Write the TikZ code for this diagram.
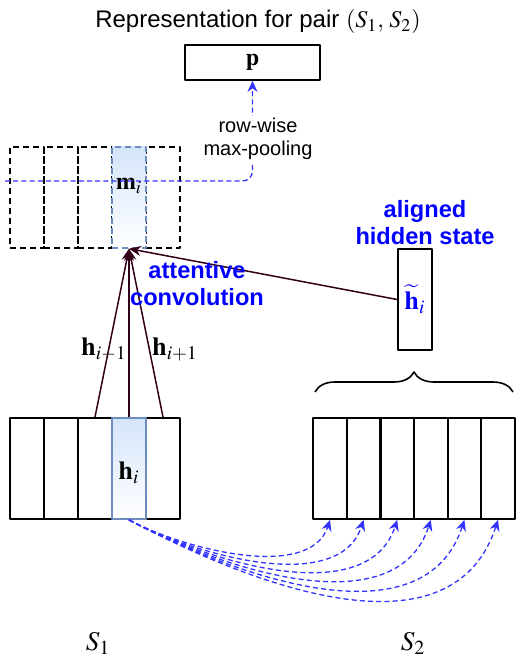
\documentclass[tikz,border=0pt]{standalone}
\usepackage{mathptmx}
\usepackage{fontspec}
\setsansfont{Liberation Sans}
\usetikzlibrary{positioning,arrows.meta,decorations.pathreplacing}
\definecolor{acBlue}{RGB}{0,0,255}
\definecolor{acDash}{RGB}{51,51,255}
\definecolor{acDark}{RGB}{51,0,26}
\definecolor{acFill}{RGB}{212,228,250}
\definecolor{acEdge}{RGB}{108,142,191}
\tikzset{
    base/.style={font=\sffamily, align=center},
    cell/.style={rectangle, draw=black, line width=0.9pt, minimum width=17pt,
                 minimum height=50.5pt, inner sep=0pt},
    ghost/.style={cell, line width=0.7pt, dash pattern=on 3pt off 2pt},
    focus/.style={top color=acFill, bottom color=white, draw=acEdge},
    conv/.style={-{Stealth[length=6pt,width=5pt]}, line width=0.75pt, color=acDark},
    matchline/.style={-{Stealth[length=5.5pt,width=5pt]}, line width=0.65pt, color=acDash,
                  dash pattern=on 2.5pt off 1.6pt},
    tag/.style={base, font=\fontsize{11.8}{13.5}\selectfont\sffamily\bfseries, text=acBlue},
    note/.style={base, font=\fontsize{10}{11.5}\selectfont\sffamily, fill=white, inner sep=1pt},
    mathlbl/.style={font=\fontsize{13}{15}\selectfont}
}

\begin{document}
\begin{tikzpicture}[x=0.5pt, y=-0.5pt, line join=round]
    \useasboundingbox (0,0) rectangle (516,662);

    % Title and pooled vector
    \node[base, font=\fontsize{12}{14}\selectfont\sffamily] (title) at (258,22)
        {Representation for pair $(S_1,\,S_2)$};
    \node[cell, minimum width=67.5pt, minimum height=17.5pt] (p) at (252.5,62.5)
        {\fontsize{12}{14}\selectfont$\mathbf{p}$};

    % Attentive convolution output (dashed matrix)
    \foreach \k in {1,2,3,5}
        \node[ghost] (m\k) at ({27+34*(\k-1)},197.5) {};
    \node[ghost, focus] (m4) at (129,197.5) {};
    \node[font=\fontsize{12}{14}\selectfont] (mi) at (129,186) {$\mathbf{m}_i$};

    % Row-wise max-pooling
    \coordinate (poolstart) at (5,181);
    \draw[matchline, rounded corners=5pt] (poolstart) -- (252.5,181) -- (p.south);
    \node[note] (pool) at (258,139) {row-wise\\max-pooling};

    % Sentence S1
    \foreach \k in {1,2,3,5}
        \node[cell] (a\k) at ({27+34*(\k-1)},468.5) {};
    \node[cell, focus] (a4) at (129,468.5) {};
    \node[mathlbl] (hi) at (129,473) {$\mathbf{h}_i$};

    % Sentence S2
    \foreach \k in {1,...,6}
        \node[cell] (b\k) at ({330+33.6*(\k-1)},468.5) {};

    % Aligned hidden state
    \node[cell] (ht) at (415,299.5)
        {\fontsize{13}{15}\selectfont$\color{acBlue}\widetilde{\mathbf{h}}_i$};
    \node[tag] (httag) at (425,223) {aligned\\hidden state};
    \coordinate (braceL) at (315,392);
    \coordinate (braceR) at (513,392);
    \draw[line width=0.8pt, decorate, decoration={brace, amplitude=10pt}] (braceL) -- (braceR);

    % Convolution inputs
    \draw[conv] (a3.north) -- (m4.south);
    \draw[conv] (a4.north) -- (m4.south);
    \draw[conv] (a5.north) -- (m4.south);
    \draw[conv] (ht.west) -- (m4.south);
    \node[mathlbl] (hprev) at (104,350) {$\mathbf{h}_{i-1}$};
    \node[mathlbl] (hnext) at (175,350) {$\mathbf{h}_{i+1}$};
    \node[tag] (convtag) at (197,284) {attentive\\convolution};

    % Alignment of h_i to every word of S2
    \foreach \k [evaluate=\k as \loose using 0.78+0.04*\k] in {1,...,6}
        \draw[matchline] (a4.south) to[out=-28, in=-108, looseness=\loose] (b\k.south);

    % Sentence names
    \node[font=\fontsize{13.5}{15}\selectfont] (s1) at (98,643) {$S_1$};
    \node[font=\fontsize{13.5}{15}\selectfont] (s2) at (413,643) {$S_2$};
\end{tikzpicture}
\end{document}
